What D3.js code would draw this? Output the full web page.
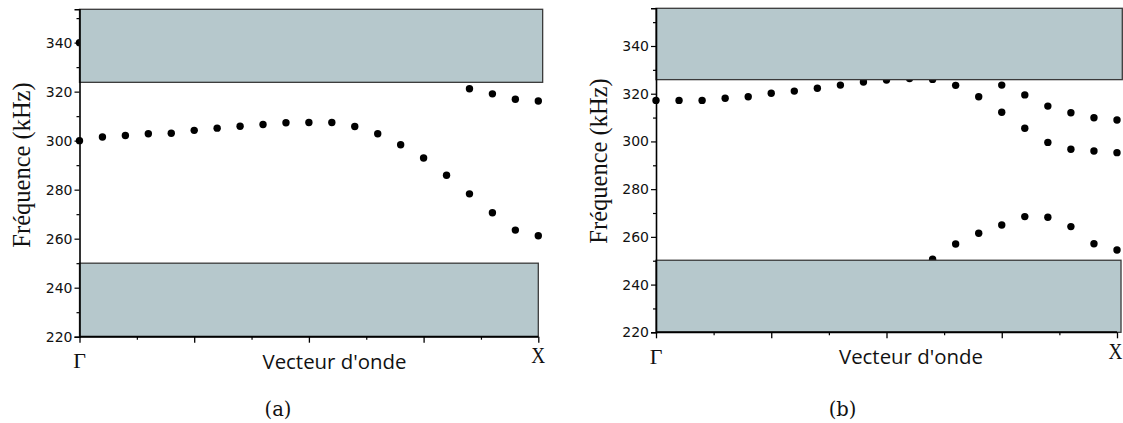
<!DOCTYPE html>
<html>
<head>
<meta charset="utf-8">
<script src="https://cdn.jsdelivr.net/npm/d3@7"></script>
<style>
  html, body { margin: 0; padding: 0; background: #fff; }
  svg { display: block; }
  .tick-label { font-family: "DejaVu Sans", Verdana, sans-serif; font-size: 14px; fill: #111; }
</style>
</head>
<body>
<svg id="chart" width="1123" height="423"></svg>
<script>
// Reduced wave vector along Γ–X (0 = Γ, 1 = X)
const waveVector = [0, 0.05, 0.10, 0.15, 0.20, 0.25, 0.30, 0.35, 0.40, 0.45, 0.50,
                    0.55, 0.60, 0.65, 0.70, 0.75, 0.80, 0.85, 0.90, 0.95, 1.00];

// Panel (a): dispersion branches, frequency in kHz
const aBranch1 = [300.0, 301.5, 302.1, 302.8, 303.0, 304.2, 305.1, 305.9, 306.6, 307.3, 307.4,
                  307.4, 305.8, 302.8, 298.3, 292.9, 285.9, 278.3, 270.6, 263.5, 261.2];
const aBranch2K = [0, 0.85, 0.90, 0.95, 1.00];
const aBranch2 = [340.0, 321.2, 319.1, 316.9, 316.2];

// Panel (b): dispersion branches, frequency in kHz
const bBranch1 = [317.2, 317.2, 317.2, 318.1, 318.7, 320.2, 321.1, 322.3, 323.6, 324.9, 325.7,
                  326.4, 326.0, 323.5, 318.7, 312.2, 305.5, 299.6, 296.7, 296.0, 295.3];
const bBranch2K = [0.75, 0.80, 0.85, 0.90, 0.95, 1.00];
const bBranch2 = [323.6, 319.5, 314.8, 312.0, 309.9, 309.0];
const bBranch3K = [0.60, 0.65, 0.70, 0.75, 0.80, 0.85, 0.90, 0.95, 1.00];
const bBranch3 = [250.6, 257.0, 261.5, 265.0, 268.5, 268.2, 264.3, 257.1, 254.5];

// Band gaps (kHz): [low, high]
const aGaps = [[220, 250], [323.8, 353.6]];
const bGaps = [[220, 250.2], [325.9, 355.8]];

// Axis ticks
const yMajorTicks = [220, 240, 260, 280, 300, 320, 340];
const yMinorTicks = [230, 250, 270, 290, 310, 330, 350];
const xMajorTicks = [0, 0.25, 0.5, 0.75, 1];
const xMinorTicks = [0.125, 0.375, 0.625, 0.875];

const svg = d3.select("#chart");
const gapFill = "#b6c8cc";
const gapStroke = "#3a3a3a";

function drawPanel(cfg) {
  const x = d3.scaleLinear().domain([0, 1]).range([cfg.left, cfg.right]);
  const y = d3.scaleLinear().domain([220, cfg.yTop]).range([cfg.bottom, cfg.top]);
  const g = svg.append("g");

  // dispersion points (drawn first, partly hidden by the gap bands)
  cfg.series.forEach(s => {
    g.selectAll(null).data(s.k.map((k, i) => ({ k, f: s.f[i] })))
      .enter().append("circle")
      .attr("cx", d => x(d.k)).attr("cy", d => y(d.f))
      .attr("r", 3.7).attr("fill", "#000");
  });

  // band gaps
  cfg.gaps.forEach((gp, i) => {
    g.append("rect")
      .attr("x", x(0)).attr("y", y(gp[1]))
      .attr("width", x(cfg.gapExtent[i]) - x(0))
      .attr("height", y(gp[0]) - y(gp[1]))
      .attr("fill", gapFill).attr("stroke", gapStroke).attr("stroke-width", 1.3);
  });

  // y axis
  const yAxis = d3.axisLeft(y).tickValues(yMajorTicks).tickSize(5).tickPadding(2).tickFormat(d3.format("d"));
  const ya = g.append("g").attr("transform", `translate(${cfg.left},0)`).call(yAxis);
  ya.attr("font-size", null).attr("font-family", null);
  ya.select(".domain").attr("stroke", "#000").attr("stroke-width", 1.6);
  ya.selectAll(".tick line").attr("stroke", "#000").attr("stroke-width", 1.2);
  ya.selectAll(".tick text").attr("class", "tick-label");
  const yMinor = d3.axisLeft(y).tickValues(yMinorTicks).tickSize(3).tickFormat("");
  const ym = g.append("g").attr("transform", `translate(${cfg.left},0)`).call(yMinor);
  ym.select(".domain").remove();
  ym.selectAll(".tick line").attr("stroke", "#000").attr("stroke-width", 1.2);

  // x axis
  const xAxis = d3.axisBottom(x).tickValues(xMajorTicks).tickSize(6).tickFormat("");
  const xa = g.append("g").attr("transform", `translate(0,${cfg.bottom})`).call(xAxis);
  xa.select(".domain").attr("stroke", "#000").attr("stroke-width", 2).attr("d", `M${cfg.left},0H${cfg.right}`);
  xa.selectAll(".tick line").attr("stroke", "#000").attr("stroke-width", 1.3);
  const xMinor = d3.axisBottom(x).tickValues(xMinorTicks).tickSize(3).tickFormat("");
  const xm = g.append("g").attr("transform", `translate(0,${cfg.bottom})`).call(xMinor);
  xm.select(".domain").remove();
  xm.selectAll(".tick line").attr("stroke", "#000").attr("stroke-width", 1.2);

  // labels
  g.append("text")
    .attr("transform", `translate(${cfg.yLabelX},${cfg.yLabelMid}) rotate(-90)`)
    .attr("text-anchor", "middle")
    .attr("font-family", "'Liberation Serif', 'Times New Roman', serif")
    .attr("font-size", 24.5).attr("fill", "#111")
    .text("Fréquence (kHz)");

  g.append("text")
    .attr("x", x(0)).attr("y", cfg.bottom + 31.5)
    .attr("text-anchor", "middle")
    .attr("font-family", "'Liberation Serif', serif").attr("font-size", 22).attr("fill", "#111")
    .text("Γ");
  g.append("text")
    .attr("transform", `translate(${cfg.xEndLabelX},${cfg.bottom + 26.5}) scale(0.8,1)`)
    .attr("text-anchor", "middle")
    .attr("font-family", "'Liberation Serif', serif").attr("font-size", 24).attr("fill", "#111")
    .text("X");

  const vl = g.append("text")
    .attr("x", cfg.xLabelStart).attr("y", cfg.bottom + 32)
    .attr("font-family", "'Open Sans', 'Noto Sans', sans-serif").attr("font-size", 17.5).attr("fill", "#111")
    .text("Vecteur d'onde");
  // widen the axis title to its set span
  const w = vl.node().getComputedTextLength();
  vl.attr("font-size", 17.5 * 144 / w);

  g.append("text")
    .attr("x", cfg.captionX).attr("y", 416)
    .attr("text-anchor", "middle")
    .attr("font-family", "'DejaVu Serif', serif").attr("font-size", 19.5).attr("fill", "#111")
    .text(cfg.caption);
}

drawPanel({
  left: 79.5, right: 538.3, top: 9.3, bottom: 336.7, yTop: 353.6,
  gaps: aGaps, gapExtent: [1.0, 1.0095],
  series: [{ k: waveVector, f: aBranch1 }, { k: aBranch2K, f: aBranch2 }],
  yLabelX: 30, yLabelMid: 165, xEndLabelX: 538.3,
  xLabelStart: 262.5, captionX: 278, caption: "(a)"
});

drawPanel({
  left: 656, right: 1117, top: 8.3, bottom: 332.3, yTop: 355.8,
  gaps: bGaps, gapExtent: [1.0087, 1.0115],
  series: [{ k: waveVector, f: bBranch1 }, { k: bBranch2K, f: bBranch2 }, { k: bBranch3K, f: bBranch3 }],
  yLabelX: 607, yLabelMid: 161, xEndLabelX: 1115.5,
  xLabelStart: 839, captionX: 842.5, caption: "(b)"
});
</script>
</body>
</html>
